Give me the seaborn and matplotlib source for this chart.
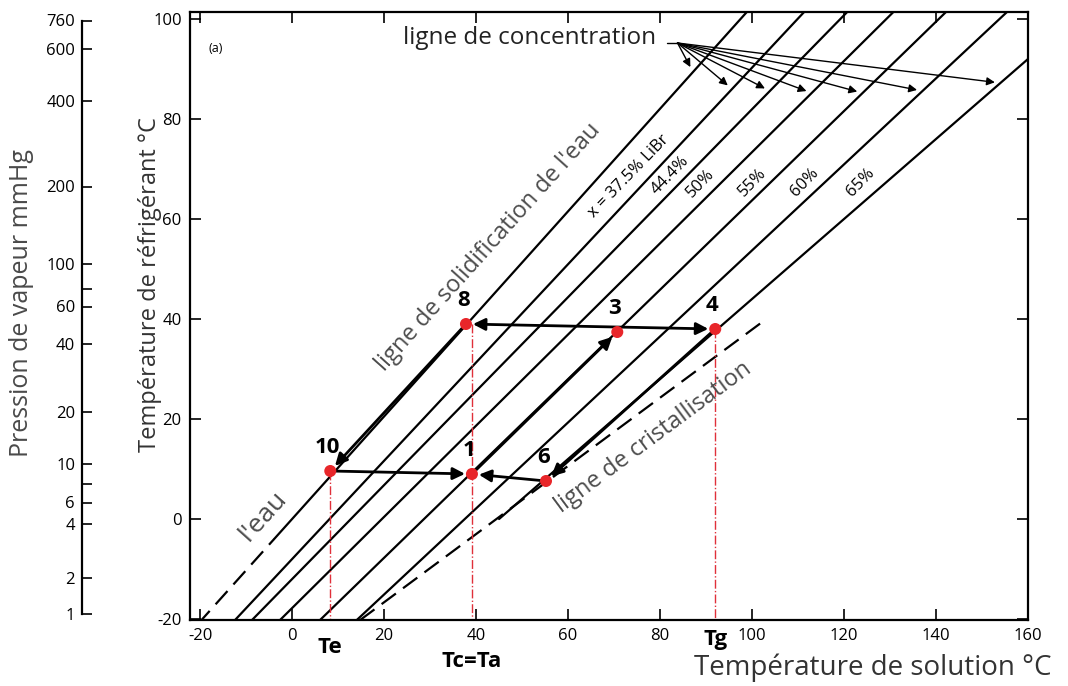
import matplotlib
matplotlib.use("Agg")
import numpy as np
import pandas as pd
import matplotlib.pyplot as plt
import seaborn as sns

# ---------------- values ----------------
# Dühring lines: solution temperature (°C) at refrigerant temperature -20 °C and 100 °C
line_names = ["eau", "37.5%", "44.4%", "50%", "55%", "60%"]
tsol_at_m20 = [-19.5, -12.2, -8.5, -2.4, 6.3, 14.3]
tsol_at_100 = [97.5, 109.9, 119.2, 129.2, 140.6, 153.8]
water_dashed_below = -4.0          # water line dashed below this refrigerant temperature

# 65 % line (starts on the crystallisation line)
line65_tref = [0.0, 100.0]
line65_tsol = [45.0, 170.0]

# crystallisation line
cryst_tref = [-20.2, 39.8]
cryst_tsol = [14.8, 102.8]

# cycle points
pt_names = ["10", "8", "3", "4", "6", "1"]
pt_tsol = [8.3, 37.8, 70.7, 92.0, 55.2, 39.1]
pt_tref = [9.6, 39.0, 37.4, 38.0, 7.6, 9.0]
cycle_arrows = [("8", "10"), ("10", "1"), ("6", "1"), ("1", "3"), ("4", "6")]
double_arrow = ("8", "4")

# temperature markers below the axis (vertical from top point, at x of base point)
tmark_top = ["10", "8", "4"]
tmark_base = ["10", "1", "4"]
tmark_labels = ["Te", "Tc=Ta", "Tg"]

# concentration labels
conc_text = ["x = 37.5% LiBr", "44.4%", "50%", "55%", "60%", "65%"]

# "ligne de concentration" arrow tips: refrigerant temperature on each line (eau ... 65 %)
fan_tip_tref = [89.4, 86.0, 85.6, 85.2, 85.2, 85.6, 87.2]

# vapour-pressure scale (mmHg) and matching refrigerant temperature
p_labels = ["760", "600", "400", "200", "100", "", "60", "40", "20", "10", "", "6", "4", "2", "1"]
p_tref = [99.7, 94.0, 83.6, 66.5, 51.0, 46.0, 42.5, 35.0, 21.4, 11.0, 7.0, 3.3, -1.0, -11.8, -19.0]

x_ticks = [-20, 0, 20, 40, 60, 80, 100, 120, 140, 160]
y_ticks = [-20, 0, 20, 40, 60, 80, 100]

# ---------------- styling ----------------
sns.set_theme(style="white")
plt.rcParams["font.family"] = ["Open Sans", "DejaVu Sans"]

W, H = 1068, 686
fig = plt.figure(figsize=(W / 100, H / 100), dpi=100)
L, R, T, B = 190, 1028, 12, 620
ax = fig.add_axes([L / W, 1 - B / H, (R - L) / W, (B - T) / H])
ax.set_xlim(-22.2, 160)
ax.set_ylim(-20.2, 101.4)

def tsol_on(i, tref):
    a, b = tsol_at_m20[i], tsol_at_100[i]
    return a + (b - a) * (tref + 20) / 120.0

def tsol_65(tref):
    return line65_tsol[0] + (line65_tsol[1] - line65_tsol[0]) * (tref - line65_tref[0]) / (line65_tref[1] - line65_tref[0])

# build long table of line segments
rows = []
for i, name in enumerate(line_names):
    if i == 0:
        for tr in (-25, water_dashed_below):
            rows.append(dict(line=name + "_d", tsol=tsol_on(i, tr), tref=tr, dashed=True))
        for tr in (water_dashed_below, 105):
            rows.append(dict(line=name, tsol=tsol_on(i, tr), tref=tr, dashed=False))
    else:
        for tr in (-25, 105):
            rows.append(dict(line=name, tsol=tsol_on(i, tr), tref=tr, dashed=False))
for tr in (line65_tref[0], 105):
    rows.append(dict(line="65%", tsol=tsol_65(tr), tref=tr, dashed=False))
for k in range(2):
    rows.append(dict(line="cryst", tsol=cryst_tsol[k], tref=cryst_tref[k], dashed=True))
df = pd.DataFrame(rows)

solid = df[~df.dashed]
sns.lineplot(data=solid, x="tsol", y="tref", units="line", estimator=None, sort=False,
             color="black", lw=1.6, ax=ax, legend=False)
for name, g in df[df.dashed].groupby("line"):
    sns.lineplot(data=g, x="tsol", y="tref", estimator=None, sort=False, color="black",
                 lw=1.6, ax=ax, legend=False)
    ax.lines[-1].set_dashes((8, 4))

pts = {n: (x, y) for n, x, y in zip(pt_names, pt_tsol, pt_tref)}

# red vertical markers
for top, base in zip(tmark_top, tmark_base):
    x = pts[base][0]
    ax.plot([x, x], [pts[top][1], -20.2], color="#e0303a", lw=1.0, ls="-.", zorder=2)

# cycle arrows
for a, b in cycle_arrows:
    ax.annotate("", xy=pts[b], xytext=pts[a],
                arrowprops=dict(arrowstyle="-|>", color="black", lw=2.0,
                                mutation_scale=18, shrinkA=3, shrinkB=5), zorder=4)
ax.annotate("", xy=pts[double_arrow[1]], xytext=pts[double_arrow[0]],
            arrowprops=dict(arrowstyle="<|-|>", color="black", lw=2.0,
                            mutation_scale=18, shrinkA=5, shrinkB=5), zorder=4)

# cycle points
pdf = pd.DataFrame(dict(name=pt_names, tsol=pt_tsol, tref=pt_tref))
sns.scatterplot(data=pdf, x="tsol", y="tref", color="#e8262a", s=75, edgecolor="none",
                ax=ax, zorder=5, legend=False)
for n, x, y in zip(pt_names, pt_tsol, pt_tref):
    ax.annotate(n, (x, y), xytext=(-2, 17), textcoords="offset points", ha="center",
                va="center", fontsize=16, fontweight="bold", color="black")

# labels below the axis
offs = {"Te": -20, "Tc=Ta": -30, "Tg": -14}
for base, lab in zip(tmark_base, tmark_labels):
    x = pts[base][0]
    ax.annotate(lab, (x, 0), xycoords=("data", "axes fraction"), xytext=(0, offs[lab]),
                textcoords="offset points", ha="center", va="center", fontsize=16,
                fontweight="bold", color="black", annotation_clip=False)

def disp_angle(x0, y0, x1, y1):
    p0 = ax.transData.transform((x0, y0)); p1 = ax.transData.transform((x1, y1))
    return np.degrees(np.arctan2(p1[1] - p0[1], p1[0] - p0[0]))

# concentration labels
conc_pos = [(73.3, 68.6), (82.2, 68.8), (88.9, 67.2), (100.0, 67.4), (111.5, 67.4), (123.7, 67.4)]
for k, (txt, (x, y)) in enumerate(zip(conc_text, conc_pos)):
    ang = disp_angle(0, 0, 10, 10 * 0.95)
    ax.text(x, y, txt, rotation=ang, rotation_mode="anchor", ha="center", va="center",
            fontsize=12, color="black")

wang = disp_angle(tsol_on(0, 0), 0, tsol_on(0, 50), 50)
ax.text(42.6, 54.4, "ligne de solidification de l'eau", rotation=wang, rotation_mode="anchor",
        ha="center", va="center", fontsize=17, color="#4d4d4d")
ax.text(-6.3, 0.6, "l'eau", rotation=wang, rotation_mode="anchor", ha="center", va="center",
        fontsize=19, color="#4d4d4d")
cang = disp_angle(cryst_tsol[0], cryst_tref[0], cryst_tsol[1], cryst_tref[1])
ax.text(78.5, 16.4, "ligne de cristallisation", rotation=cang, rotation_mode="anchor",
        ha="center", va="center", fontsize=17, color="#4d4d4d")
ax.text(-16.7, 94.2, "(a)", fontsize=9, ha="center", va="center", color="black")

# ligne de concentration with fan of arrows
ax.text(24.1, 96.2, "ligne de concentration", fontsize=17.5, ha="left", va="center", color="#222222")
ox, oy = 83.8, 95.2
ax.plot([81.5, ox], [oy, oy], color="black", lw=1.0)
for k, tr in enumerate(fan_tip_tref):
    tx = tsol_on(k, tr) if k < 6 else tsol_65(tr)
    ax.annotate("", xy=(tx, tr), xytext=(ox, oy),
                arrowprops=dict(arrowstyle="-|>", color="black", lw=1.0, mutation_scale=12,
                                shrinkA=0, shrinkB=4))

# axes styling
ax.set_xticks(x_ticks); ax.set_yticks(y_ticks)
ax.set_xticklabels([str(v) for v in x_ticks]); ax.set_yticklabels([str(v) for v in y_ticks])
ax.tick_params(direction="in", length=8, width=1.2, left=True, bottom=True, top=True, right=True,
               labelsize=12, colors="black", pad=6)
for s in ax.spines.values():
    s.set_color("black"); s.set_linewidth(1.6)
ax.set_xlabel(""); ax.set_ylabel("")

# vapour pressure axis
axp = fig.add_axes([82 / W, 1 - B / H, 0.001, (B - T) / H])
axp.set_ylim(ax.get_ylim())
axp.set_xticks([])
axp.set_yticks(p_tref)
axp.set_yticklabels(p_labels)
axp.tick_params(axis="y", direction="in", left=True, length=7, width=1.2, labelsize=12, pad=5,
                colors="black")
for side in ("top", "right", "bottom"):
    axp.spines[side].set_visible(False)
axp.spines["left"].set_color("black"); axp.spines["left"].set_linewidth(1.6)
axp.spines["left"].set_bounds(p_tref[-1], p_tref[0])
axp.patch.set_alpha(0)

fig.text(22 / W, 1 - 303 / H, "Pression de vapeur mmHg", rotation=90, ha="center", va="center",
         fontsize=18, color="#4a4a4a")
fig.text(150 / W, 1 - 285 / H, "Température de réfrigérant °C", rotation=90, ha="center",
         va="center", fontsize=17, color="#333333")
fig.text(873 / W, 1 - 668 / H, "Température de solution °C", ha="center", va="center",
         fontsize=20, color="#333333")

fig.savefig("out.png", dpi=100, facecolor="white")
